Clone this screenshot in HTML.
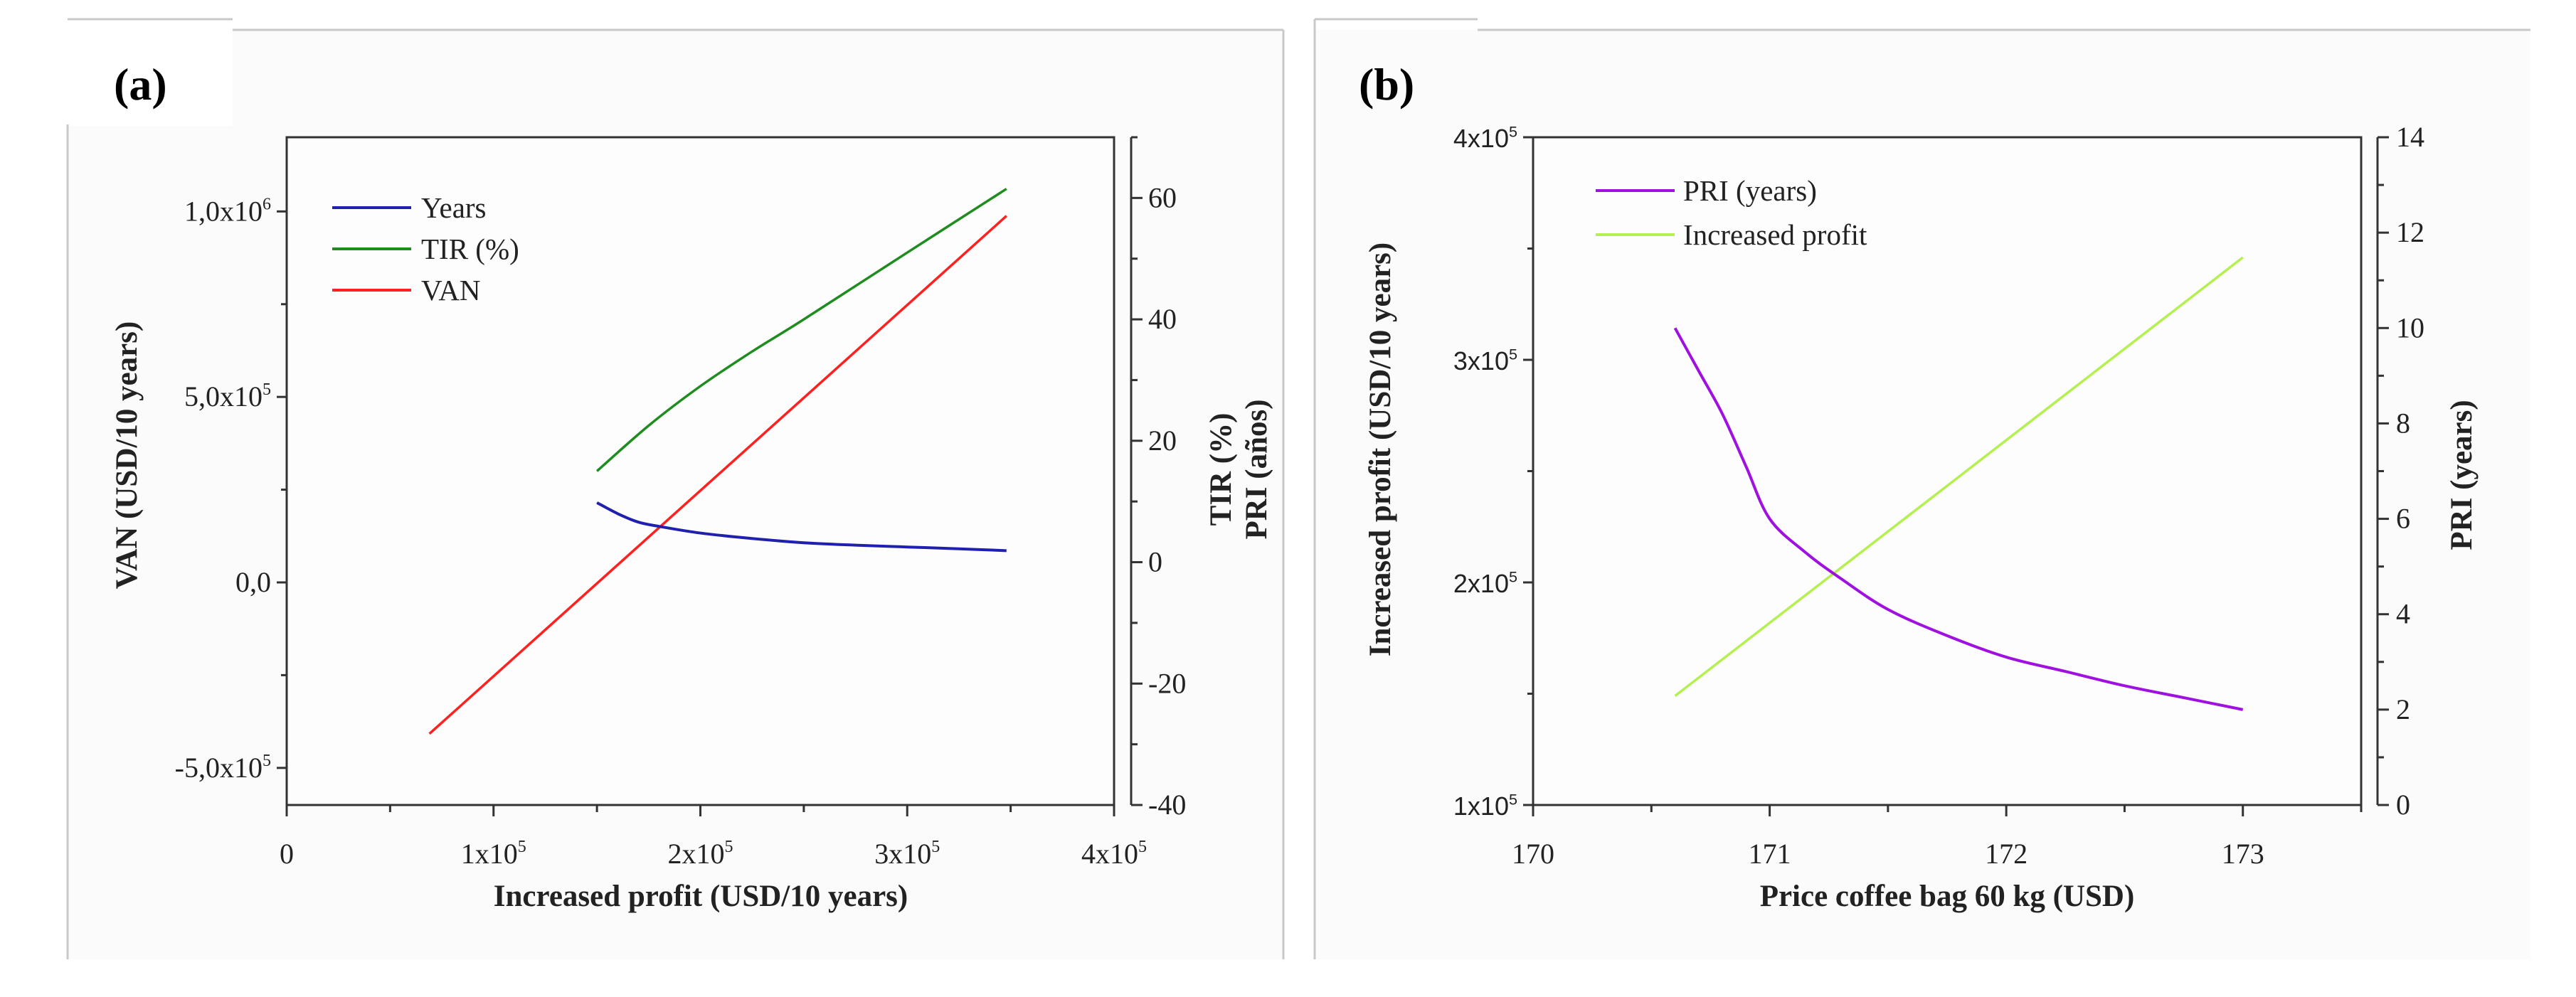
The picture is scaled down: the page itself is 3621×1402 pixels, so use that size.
<!DOCTYPE html>
<html><head><meta charset="utf-8"><style>
html,body{margin:0;padding:0;background:#fff;}
svg{display:block;font-family:"Liberation Serif",serif;}
</style></head><body>
<svg id="c" width="3621" height="1402" viewBox="0 0 3621 1402" xmlns="http://www.w3.org/2000/svg">
<g stroke="#c8c8c8" stroke-width="3" fill="none">
<rect x="95" y="42" width="1709" height="1307" fill="#fbfbfb" stroke="none"/>
<rect x="95" y="27" width="232" height="150" fill="#fff" stroke="none"/>
<line x1="95" y1="27" x2="327" y2="27"/><line x1="327" y1="42" x2="1804" y2="42"/>
<line x1="95" y1="175" x2="95" y2="1349"/><line x1="1804" y1="42" x2="1804" y2="1349"/>
<rect x="1848" y="42" width="1709" height="1307" fill="#fbfbfb" stroke="none"/>
<line x1="1848" y1="27" x2="2077" y2="27"/><line x1="2077" y1="42" x2="3557" y2="42"/>
<line x1="1848" y1="27" x2="1848" y2="1349"/>
</g>
<text x="160" y="140" font-size="64" font-weight="bold">(a)</text>
<text x="1910" y="140" font-size="64" font-weight="bold">(b)</text>
<g id="pa"></g>
<g id="pb"></g>
</svg>
<script>
// Panel (a) data
const aYearsX=[1.5e5,1.6e5,1.7e5,1.8e5,2.0e5,2.25e5,2.5e5,2.75e5,3.0e5,3.25e5,3.48e5];
const aYearsY=[9.8,8.0,6.6,5.9,4.8,3.9,3.2,2.8,2.5,2.2,1.9];
const aTirX=[1.5e5,1.75e5,2.0e5,2.25e5,2.5e5,3.0e5,3.48e5];
const aTirY=[15,22.5,29,34.7,40,51,61.5];
const aVanX=[0.69e5,3.48e5];
const aVanY=[-4.08e5,9.88e5];
const aXTicks=[0,1,2,3,4];
const aYTicks=[-5e5,0,5e5,1e6];
const aYTickLabels=["-5,0x10|5","0,0","5,0x10|5","1,0x10|6"];
const aRTicks=[-40,-20,0,20,40,60];
// Panel (b) data
const bX=[170.6,170.7,170.8,170.9,171.0,171.15,171.3,171.5,171.75,172.0,172.25,172.5,172.75,173.0];
const bPri=[10.0,9.1,8.2,7.1,6.0,5.3,4.75,4.1,3.55,3.1,2.8,2.5,2.25,2.0];
const bProfitX=[170.6,173.0];
const bProfitY=[1.49e5,3.46e5];
const bXTicks=[170,171,172,173];
const bYTicks=[1e5,2e5,3e5,4e5];
const bRTicks=[0,2,4,6,8,10,12,14];

const NS="http://www.w3.org/2000/svg";
function mk(p,t,a,txt){const e=document.createElementNS(NS,t);for(const k in a)e.setAttribute(k,a[k]);if(txt!==undefined)e.textContent=txt;p.appendChild(e);return e;}
function sup(p,x,y,label,size,anchor){
  const parts=label.split("|");
  const t=mk(p,"text",{x:x,y:y,"font-size":size,"text-anchor":anchor,fill:"#222"});
  t.textContent=parts[0];
  if(parts[1]){const s=document.createElementNS(NS,"tspan");s.setAttribute("dy",-size*0.4);s.setAttribute("font-size",size*0.6);s.textContent=parts[1];t.appendChild(s);}
  return t;
}
function poly(p,xs,ys,fx,fy,col,w){
  const P=xs.map((v,i)=>[fx(v),fy(ys[i])]);
  let d="M"+P[0][0]+","+P[0][1];
  for(let i=0;i<P.length-1;i++){
    const p0=P[i-1]||P[i],p1=P[i],p2=P[i+1],p3=P[i+2]||P[i+1];
    const c1=[p1[0]+(p2[0]-p0[0])/6,p1[1]+(p2[1]-p0[1])/6];
    const c2=[p2[0]-(p3[0]-p1[0])/6,p2[1]-(p3[1]-p1[1])/6];
    d+=" C"+c1[0]+","+c1[1]+" "+c2[0]+","+c2[1]+" "+p2[0]+","+p2[1];
  }
  return mk(p,"path",{d:d,fill:"none",stroke:col,"stroke-width":w,"stroke-linejoin":"round"});
}

// ---- Panel a
(function(){
const g=document.getElementById("pa");
const L=403,R=1566,T=193,B=1132,RA=1590;
const x=v=>L+(v-0)/4e5*(R-L);
const y=v=>B-(v+6e5)/18e5*(B-T);
const yr=v=>B-(v+40)/110*(B-T);
let e=mk(g,"rect",{x:L,y:T,width:R-L,height:B-T,fill:"#fdfdfd",stroke:"#333","stroke-width":3});

e=mk(g,"line",{x1:RA,y1:T,x2:RA,y2:B,stroke:"#333","stroke-width":3});

for(let i=0;i<=8;i++){const v=i*0.5e5;mk(g,"line",{x1:x(v),y1:B,x2:x(v),y2:B+(i%2?10:16),stroke:"#333","stroke-width":3});}
aXTicks.forEach(t=>{const l=t===0?"0":t+"x10|5";e=sup(g,x(t*1e5),B+82,l,40,"middle");});
for(let v=-5e5;v<=1e6;v+=2.5e5){const maj=(v%5e5===0);mk(g,"line",{x1:L,y1:y(v),x2:L-(maj?14:8),y2:y(v),stroke:"#333","stroke-width":3});}
aYTicks.forEach((t,i)=>{e=sup(g,L-22,y(t)+13,aYTickLabels[i],40,"end");});
for(let v=-40;v<=70;v+=10){mk(g,"line",{x1:RA,y1:yr(v),x2:RA+(v%20===0?16:9),y2:yr(v),stroke:"#333","stroke-width":3});}
aRTicks.forEach(t=>{e=mk(g,"text",{x:RA+24,y:yr(t)+13,"font-size":40,fill:"#222"},String(t));});
e=mk(g,"text",{x:985,y:1274,"font-size":43,"font-weight":"bold","text-anchor":"middle",fill:"#222"},"Increased profit (USD/10 years)");

e=mk(g,"text",{transform:"translate(192,640) rotate(-90)","font-size":43,"font-weight":"bold","text-anchor":"middle",fill:"#222"},"VAN (USD/10 years)");

e=mk(g,"text",{transform:"translate(1730,660) rotate(-90)","font-size":43,"font-weight":"bold","text-anchor":"middle",fill:"#222"},"TIR (%)");

e=mk(g,"text",{transform:"translate(1780,660) rotate(-90)","font-size":43,"font-weight":"bold","text-anchor":"middle",fill:"#222"},"PRI (años)");

e=poly(g,aVanX,aVanY,x,y,"#ff2020",3.5);
e=poly(g,aTirX,aTirY,x,yr,"#1e8c1e",3.5);
e=poly(g,aYearsX,aYearsY,x,yr,"#2020b0",4);
const leg=[["Years","#2020b0"],["TIR (%)","#1e8c1e"],["VAN","#ff2020"]];
leg.forEach((d,i)=>{const yy=292+i*58;mk(g,"line",{x1:467,y1:yy,x2:578,y2:yy,stroke:d[1],"stroke-width":4});
e=mk(g,"text",{x:592,y:yy+14,"font-size":41,fill:"#222"},d[0]);});
})();

// ---- Panel b
(function(){
const g=document.getElementById("pb");
const L=2155,R=3319,T=193,B=1132,RA=3342;
const x=v=>L+(v-170)/3.5*(R-L);
const y=v=>B-(v-1e5)/3e5*(B-T);
const yr=v=>B-v/14*(B-T);
let e=mk(g,"rect",{x:L,y:T,width:R-L,height:B-T,fill:"#fdfdfd",stroke:"#333","stroke-width":3});

e=mk(g,"line",{x1:RA,y1:T,x2:RA,y2:B,stroke:"#333","stroke-width":3});

for(let i=0;i<=7;i++){const v=170+i*0.5;mk(g,"line",{x1:x(v),y1:B,x2:x(v),y2:B+(i%2?10:16),stroke:"#333","stroke-width":3});}
bXTicks.forEach(t=>{e=mk(g,"text",{x:x(t),y:B+82,"font-size":40,"text-anchor":"middle",fill:"#222"},String(t));});
for(let v=1e5;v<=4e5;v+=0.5e5){const maj=(v%1e5===0);mk(g,"line",{x1:L,y1:y(v),x2:L-(maj?14:8),y2:y(v),stroke:"#333","stroke-width":3});}
bYTicks.forEach(t=>{e=sup(g,L-22,y(t)+14,(t/1e5)+"x10|5",36,"end");e.setAttribute('font-family','Liberation Sans, sans-serif');});
for(let v=0;v<=14;v+=1){mk(g,"line",{x1:RA,y1:yr(v),x2:RA+(v%2===0?16:9),y2:yr(v),stroke:"#333","stroke-width":3});}
bRTicks.forEach(t=>{e=mk(g,"text",{x:RA+26,y:yr(t)+13,"font-size":40,fill:"#222"},String(t));});
e=mk(g,"text",{x:2737,y:1274,"font-size":43,"font-weight":"bold","text-anchor":"middle",fill:"#222"},"Price coffee bag 60 kg (USD)");

e=mk(g,"text",{transform:"translate(1954,632) rotate(-90)","font-size":43,"font-weight":"bold","text-anchor":"middle",fill:"#222"},"Increased profit (USD/10 years)");

e=mk(g,"text",{transform:"translate(3474,668) rotate(-90)","font-size":43,"font-weight":"bold","text-anchor":"middle",fill:"#222"},"PRI (years)");

e=poly(g,bProfitX,bProfitY,x,y,"#b4f050",3.5);
e=poly(g,bX,bPri,x,yr,"#a010e0",4);
const leg=[["PRI (years)","#a010e0"],["Increased profit","#b4f050"]];
leg.forEach((d,i)=>{const yy=268+i*62;mk(g,"line",{x1:2243,y1:yy,x2:2354,y2:yy,stroke:d[1],"stroke-width":4});
e=mk(g,"text",{x:2366,y:yy+14,"font-size":41,fill:"#222"},d[0]);});
})();
</script>
</body></html>
